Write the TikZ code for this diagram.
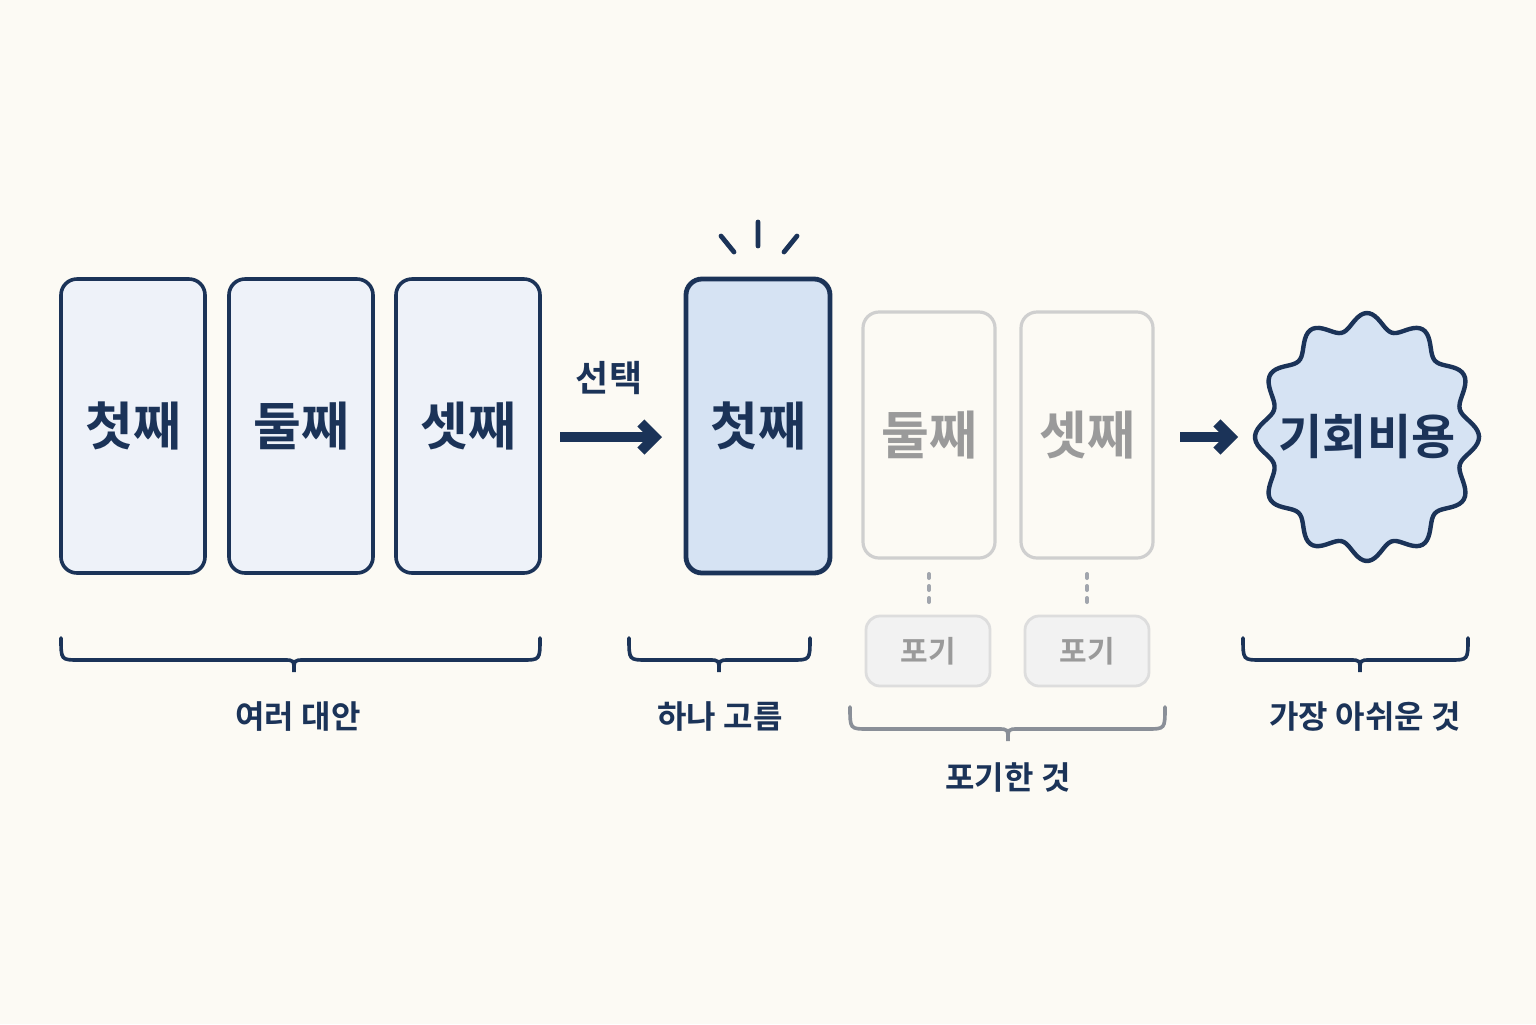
\documentclass[tikz,border=0pt]{standalone}
\usepackage{fontspec}
\usetikzlibrary{arrows.meta}
\newfontfamily\kr{Noto Sans CJK KR}[BoldFont={Noto Sans CJK KR Bold}]
\definecolor{navy}{HTML}{1B3358}
\definecolor{bg}{HTML}{FCFAF4}
\definecolor{cardf}{HTML}{EEF2F9}
\definecolor{self}{HTML}{D6E3F3}
\definecolor{fade}{HTML}{CFCFCF}
\definecolor{fadet}{HTML}{9A9A9A}
\definecolor{gbr}{HTML}{8A8F98}
\begin{document}
\begin{tikzpicture}[x=0.5pt,y=-0.5pt,
 card/.style={draw=navy,line width=1.8pt,rounded corners=8pt,fill=cardf,minimum width=72pt,minimum height=147pt,font=\kr\bfseries\fontsize{26}{28}\selectfont,text=navy},
 fcard/.style={draw=fade,line width=1.6pt,rounded corners=8pt,fill=bg,minimum width=66pt,minimum height=123pt,font=\kr\bfseries\fontsize{26}{28}\selectfont,text=fadet},
 gbox/.style={draw=fade!70,line width=1.4pt,rounded corners=7pt,fill=black!5,minimum width=62pt,minimum height=35pt,font=\kr\bfseries\fontsize{15}{17}\selectfont,text=fadet},
 lab/.style={font=\kr\bfseries\fontsize{16}{18}\selectfont,text=navy},
 arr/.style={draw=navy,line width=5pt,-{Straight Barb[length=7pt,width=14pt]}},
 br/.style={draw=navy,line width=1.8pt,line cap=round}]
\fill[bg] (0,0) rectangle (1536,1024);
\node[card] (c1) at (133,426) {첫째};
\node[card] (c2) at (301,426) {둘째};
\node[card] (c3) at (468,426) {셋째};
\node[card,fill=self,line width=2.4pt] (s) at (758,426) {첫째};
\node[fcard] (f1) at (929,435) {둘째};
\node[fcard] (f2) at (1087,435) {셋째};
\node[gbox] (g1) at (928,651) {포기};
\node[gbox] (g2) at (1087,651) {포기};
\coordinate (d1a) at (929,574); \coordinate (d1b) at (929,604);
\coordinate (d2a) at (1087,574); \coordinate (d2b) at (1087,604);
\draw[gbr!80,line width=2pt,dash pattern=on 2pt off 4pt,line cap=round] (d1a) -- (d1b);
\draw[gbr!80,line width=2pt,dash pattern=on 2pt off 4pt,line cap=round] (d2a) -- (d2b);
\coordinate (a1) at (560,437); \coordinate (a2) at (662,437);
\draw[arr] (a1) -- (a2);
\node[lab,font=\kr\bfseries\fontsize{18}{20}\selectfont] (sel) at (609,378) {선택};
\coordinate (b1) at (1180,437); \coordinate (b2) at (1238,437);
\draw[arr] (b1) -- (b2);
\draw[navy,line width=2.4pt,line cap=round] (758,222) -- (758,246) (721,236) -- (734,252) (797,236) -- (784,252);
\draw[navy,line width=2.2pt,fill=self] plot[domain=0:360,samples=240,smooth cycle] ({1367+(104+8*cos(12*\x))*cos(\x)},{437+(116+8*cos(12*\x))*sin(\x)});
\node[font=\kr\bfseries\fontsize{24}{26}\selectfont,text=navy] (oc) at (1367,437) {기회비용};
\newcommand\mybrace[5]{\draw[#5] (#1,#3) .. controls (#1,#3+22) .. (#1+18,#3+22) -- (#2-10,#3+22) .. controls (#2,#3+22) .. (#2,#3+34) .. controls (#2,#3+22) .. (#2+10,#3+22) -- (#4-18,#3+22) .. controls (#4,#3+22) .. (#4,#3);}
\mybrace{61}{294}{638}{540}{br}
\mybrace{629}{719}{638}{810}{br}
\mybrace{850}{1008}{707}{1165}{br,draw=gbr}
\mybrace{1243}{1360}{638}{1468}{br}
\node[lab] (l1) at (298,716) {여러 대안};
\node[lab] (l2) at (720,716) {하나 고름};
\node[lab] (l3) at (1008,777) {포기한 것};
\node[lab] (l4) at (1365,716) {가장 아쉬운 것};
\end{tikzpicture}
\end{document}
